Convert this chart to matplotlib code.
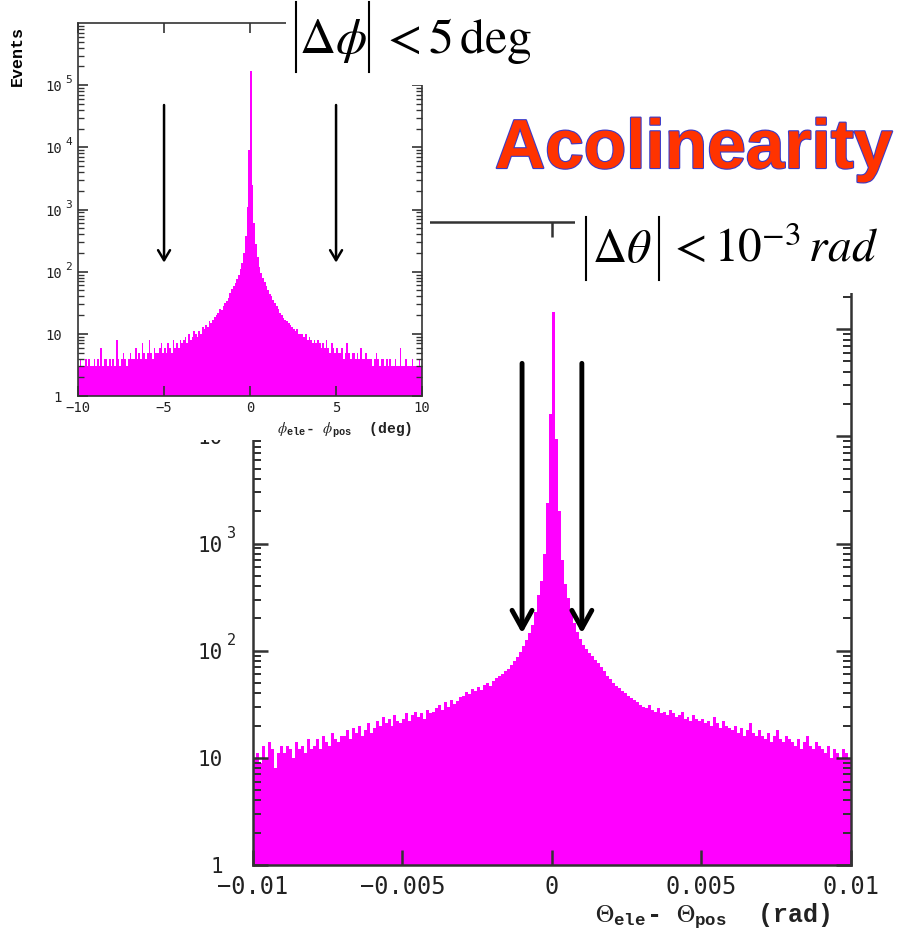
import numpy as np
import matplotlib.pyplot as plt
from matplotlib.patches import Rectangle
from matplotlib.lines import Line2D
from matplotlib import patheffects
from matplotlib.transforms import blended_transform_factory, ScaledTranslation
from matplotlib.ticker import FixedLocator, FixedFormatter, LogLocator, NullFormatter

plt.rcParams['mathtext.fontset'] = 'stix'
plt.rcParams['font.family'] = 'DejaVu Sans Mono'

# theta_ele - theta_pos, 200 bins on [-0.01, 0.01] rad
theta_edges = np.linspace(-0.01, 0.01, 201)
theta_counts = [
    10, 11, 9, 13, 10, 14, 12, 8, 11, 13,
    11, 13, 12, 10, 14, 12, 13, 11, 15, 12,
    13, 15, 12, 16, 14, 13, 17, 15, 14, 16,
    16, 18, 15, 19, 17, 20, 16, 18, 21, 17,
    19, 22, 20, 24, 21, 23, 20, 25, 22, 21,
    23, 26, 22, 25, 27, 24, 26, 23, 28, 26,
    27, 29, 31, 28, 33, 30, 35, 32, 34, 37,
    38, 41, 39, 44, 42, 46, 43, 48, 50, 47,
    52, 56, 58, 61, 64, 68, 74, 80, 88, 98,
    110, 125, 145, 175, 230, 330, 450, 800, 2400, 16000,
    145000, 9500, 2000, 700, 420, 310, 230, 180, 150, 128,
    112, 104, 96, 90, 82, 76, 70, 64, 58, 54,
    50, 47, 45, 42, 40, 38, 36, 35, 33, 31,
    30, 29, 31, 28, 27, 29, 26, 27, 25, 28,
    26, 24, 25, 27, 23, 24, 22, 25, 23, 22,
    23, 21, 22, 20, 24, 21, 19, 22, 20, 19,
    18, 20, 17, 19, 16, 18, 21, 17, 16, 18,
    16, 15, 17, 14, 16, 18, 15, 14, 16, 15,
    14, 13, 15, 12, 14, 16, 13, 12, 14, 13,
    12, 11, 13, 10, 12, 11, 10, 12, 11, 10,
]

# phi_ele - phi_pos, 200 bins on [-10, 10] deg
phi_edges = np.linspace(-10, 10, 201)
phi_counts = [
    3, 4, 3, 3, 4, 3, 4, 3, 3, 4,
    3, 4, 3, 6, 3, 4, 4, 3, 4, 3,
    4, 3, 8, 4, 3, 4, 5, 4, 3, 4,
    5, 4, 4, 6, 4, 5, 4, 7, 5, 4,
    5, 8, 5, 4, 6, 5, 5, 6, 7, 5,
    6, 5, 7, 6, 5, 8, 6, 7, 6, 8,
    7, 8, 9, 7, 10, 8, 9, 11, 10, 9,
    11, 10, 13, 12, 14, 13, 16, 15, 17, 19,
    20, 22, 25, 24, 28, 31, 34, 38, 45, 52,
    58, 66, 76, 90, 110, 140, 200, 380, 1100, 9000,
    170000, 2500, 600, 280, 170, 120, 95, 80, 68, 58,
    50, 44, 40, 35, 31, 28, 25, 22, 20, 18,
    17, 16, 15, 14, 13, 12, 11, 12, 10, 10,
    10, 9, 10, 8, 9, 8, 7, 8, 7, 8,
    7, 6, 7, 6, 8, 6, 5, 7, 6, 5,
    6, 5, 5, 6, 4, 5, 7, 5, 4, 5,
    5, 4, 5, 4, 6, 4, 4, 5, 4, 4,
    4, 3, 4, 5, 4, 3, 4, 4, 3, 4,
    3, 4, 3, 3, 4, 3, 3, 6, 3, 3,
    4, 3, 3, 3, 4, 3, 3, 3, 4, 3,
]

# selection cuts
theta_cut = 0.001
phi_cut = 5

theta_ticks = [-0.01, -0.005, 0, 0.005, 0.01]
theta_ticklabels = ['\u22120.01', '\u22120.005', '0', '0.005', '0.01']
phi_ticks = [-10, -5, 0, 5, 10]
phi_ticklabels = ['\u221210', '\u22125', '0', '5', '10']
count_ticks = [1, 10, 1e2, 1e3, 1e4, 1e5]

MAGENTA = '#ff00ff'
FRAME = '#333333'
LABEL = '#222222'
W, H = 898.0, 940.0

fig = plt.figure(figsize=(W / 100, H / 100), dpi=100)


def px(dx, dy):
    # offset in pixels (figure is saved at 100 dpi)
    return ScaledTranslation(dx / 100, dy / 100, fig.dpi_scale_trans)


def style_axes(ax, xticks, xlabels, size, major_len, minor_len, lw):
    ax.set_yscale('log')
    ax.set_ylim(1, 1e6)
    ax.xaxis.set_major_locator(FixedLocator(xticks))
    ax.xaxis.set_major_formatter(FixedFormatter(xlabels))
    ax.yaxis.set_major_locator(FixedLocator(count_ticks))
    ax.yaxis.set_major_formatter(NullFormatter())
    ax.yaxis.set_minor_locator(LogLocator(subs=range(2, 10), numticks=20))
    ax.yaxis.set_minor_formatter(NullFormatter())
    ax.tick_params(which='both', direction='in', top=True, right=True,
                   color=FRAME, labelcolor=LABEL, labelsize=size)
    ax.tick_params(which='major', length=major_len, width=lw)
    ax.tick_params(which='minor', length=minor_len, width=lw * 0.8)
    for sp in ax.spines.values():
        sp.set_color(FRAME)
        sp.set_linewidth(lw)


def decade_labels(ax, right, sup_left, size, sup_size, drop, lift):
    # "10" with a detached exponent, PAW style
    base = blended_transform_factory(ax.transAxes, ax.transData)
    for v in count_ticks:
        e = int(round(np.log10(v)))
        mant = '1' if e == 0 else '10'
        ax.text(0, v, mant, transform=base + px(right, -drop), ha='right', va='center',
                fontsize=size, color=LABEL)
        if e >= 2:
            ax.text(0, v, str(e), transform=base + px(sup_left, lift), ha='left',
                    va='center', fontsize=sup_size, color=LABEL)


def abs_bars(x_left, x_right, y_top, y_bot):
    # tall |...| delimiters of the cut formulas, pixel positions from the top
    for xb in (x_left, x_right):
        fig.add_artist(Line2D([xb / W, xb / W], [1 - y_top / H, 1 - y_bot / H],
                              transform=fig.transFigure, color='black', lw=1.5,
                              zorder=4))


# ---- main plot: theta acolinearity ----
ax = fig.add_axes([0.2817, 0.0798, 0.6659, 0.6840], zorder=0)
ax.bar(theta_edges[:-1], theta_counts, width=np.diff(theta_edges), align='edge',
       color=MAGENTA, linewidth=0)
ax.set_xlim(-0.01, 0.01)
style_axes(ax, theta_ticks, theta_ticklabels, 17, 11, 6, 1.8)
ax.tick_params(axis='x', pad=7)
decade_labels(ax, -30, -26, 15, 11, 2, 10)
ax.set_xlabel(r'$\Theta_{\mathdefault{ele}}$- $\Theta_{\mathdefault{pos}}$  (rad)',
              family='Liberation Mono', fontweight='bold', fontsize=18, color=LABEL)
ax.xaxis.set_label_coords(0.769, -0.057)
for c in (-theta_cut, theta_cut):
    ax.annotate('', xy=(c, 145), xytext=(c, 4.8e4),
                arrowprops=dict(arrowstyle='->,head_length=0.65,head_width=0.36',
                                lw=3.5, color='black', shrinkA=0, shrinkB=0,
                                mutation_scale=20))

# white backing behind the inset and the headline texts
fig.add_artist(Rectangle((0, 0.532), 0.479, 0.468, transform=fig.transFigure,
                         facecolor='white', edgecolor='none', zorder=1))
fig.add_artist(Rectangle((0.3185, 0.9096), 0.30, 0.0904, transform=fig.transFigure,
                         facecolor='white', edgecolor='none', zorder=3))
fig.add_artist(Rectangle((0.6403, 0.6883), 0.3597, 0.3117, transform=fig.transFigure,
                         facecolor='white', edgecolor='none', zorder=3))

# ---- inset: phi acolinearity ----
axi = fig.add_axes([0.0869, 0.5787, 0.3831, 0.3968], zorder=2)
axi.bar(phi_edges[:-1], phi_counts, width=np.diff(phi_edges), align='edge',
        color=MAGENTA, linewidth=0)
axi.set_xlim(-10, 10)
style_axes(axi, phi_ticks, phi_ticklabels, 10, 7, 4, 1.2)
decade_labels(axi, -16, -13, 10, 8, 2, 5)
axi.set_xlabel(r'$\phi_{\mathdefault{ele}}$- $\phi_{\mathdefault{pos}}$  (deg)',
               family='Liberation Mono', fontweight='bold', fontsize=10.5, color=LABEL)
axi.xaxis.set_label_coords(0.775, -0.066)
axi.set_ylabel('Events', family='Liberation Mono', fontweight='bold', fontsize=12)
axi.yaxis.set_label_coords(-0.155, 0.912)
axi.yaxis.label.set_verticalalignment('bottom')
for c in (-phi_cut, phi_cut):
    axi.annotate('', xy=(c, 140), xytext=(c, 4.8e4),
                 arrowprops=dict(arrowstyle='->,head_length=0.72,head_width=0.43',
                                 lw=1.8, color='black', shrinkA=0, shrinkB=0,
                                 mutation_scale=10))

# ---- headline texts ----
abs_bars(296, 369, 2, 72)
fig.text(333 / W, 1 - 53 / H, r'$\Delta\phi$', fontsize=36, ha='center', va='baseline',
         zorder=4)
fig.text(380 / W, 1 - 53 / H, r'$<5\,\mathrm{deg}$', fontsize=36, ha='left',
         va='baseline', zorder=4)

abs_bars(586, 659, 217, 280)
fig.text(622 / W, 1 - 262 / H, r'$\Delta\theta$', fontsize=34, ha='center',
         va='baseline', zorder=4)
fig.text(668 / W, 1 - 262 / H, r'$<10^{-3}\,rad$', fontsize=34, ha='left',
         va='baseline', zorder=4)

fig.text(495 / W, 1 - 168 / H, 'Acolinearity', family='Liberation Sans', fontweight='bold',
         fontsize=50, color='#ff3300', ha='left', va='baseline', zorder=4,
         path_effects=[patheffects.withStroke(linewidth=1.6, foreground='#3b3bc8')])

fig.savefig('out.png', dpi=100, facecolor='white')
